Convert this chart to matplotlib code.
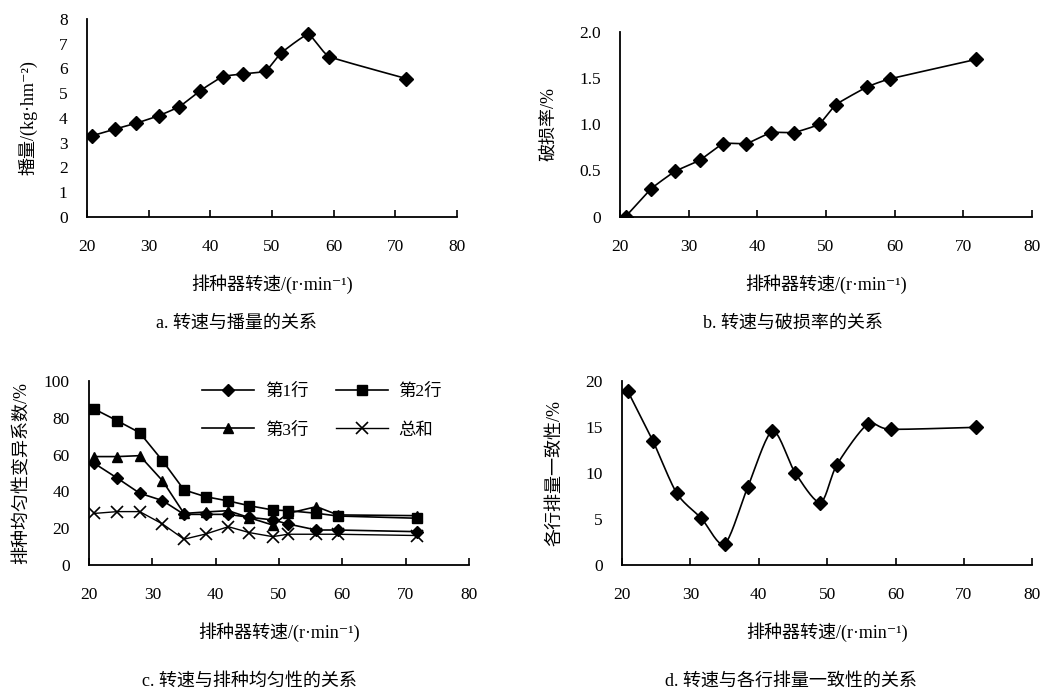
import numpy as np
import matplotlib
matplotlib.use("Agg")
import matplotlib.pyplot as plt

plt.rcParams['font.family'] = ['Liberation Serif', 'Noto Sans CJK SC', 'DejaVu Sans']
plt.rcParams['axes.unicode_minus'] = False

# speeds (r/min)
speed = [20.8, 24.5, 28.0, 31.6, 35.0, 38.4, 42.0, 45.3, 49.0, 51.4, 55.9, 59.3, 71.8]

# a. seeding rate
seed_rate = [3.28, 3.55, 3.79, 4.09, 4.46, 5.11, 5.67, 5.78, 5.90, 6.61, 7.38, 6.48, 5.59]
# b. damage rate
damage = [0.0, 0.30, 0.49, 0.61, 0.79, 0.79, 0.91, 0.91, 1.0, 1.21, 1.40, 1.49, 1.70]
# c. uniformity coefficient of variation
row1 = [55.3, 47.1, 39.0, 35.0, 27.5, 27.5, 27.5, 25.9, 24.5, 22.3, 19.0, 19.0, 18.1]
row2 = [84.8, 78.3, 71.9, 56.7, 40.8, 37.1, 34.8, 32.2, 29.9, 29.5, 28.1, 26.6, 25.4]
row3 = [58.9, 58.9, 59.4, 45.8, 28.0, 28.8, 29.5, 25.7, 21.7, 28.0, 31.7, 27.2, 26.8]
total = [28.0, 29.0, 29.0, 22.3, 14.0, 16.8, 20.8, 17.6, 15.4, 16.7, 16.7, 16.7, 16.0]
# d. consistency of rows
consistency = [18.95, 13.5, 7.8, 5.07, 2.28, 8.5, 14.57, 10.04, 6.78, 10.87, 15.29, 14.75, 14.96]

XLABEL = '排种器转速/(r·min⁻¹)'


def smooth(x, y, k=1.0, n=20):
    # catmull-rom curve through the points (k scales the tangents)
    x = np.asarray(x, float)
    y = np.asarray(y, float)
    px = np.concatenate([[2 * x[0] - x[1]], x, [2 * x[-1] - x[-2]]])
    py = np.concatenate([[2 * y[0] - y[1]], y, [2 * y[-1] - y[-2]]])
    xs, ys = [], []
    t = np.linspace(0, 1, n)
    h00 = 2 * t ** 3 - 3 * t ** 2 + 1
    h10 = t ** 3 - 2 * t ** 2 + t
    h01 = -2 * t ** 3 + 3 * t ** 2
    h11 = t ** 3 - t ** 2
    for i in range(1, len(px) - 2):
        for p, out in ((px, xs), (py, ys)):
            m1 = k * 0.5 * (p[i + 1] - p[i - 1])
            m2 = k * 0.5 * (p[i + 2] - p[i])
            out.extend(h00 * p[i] + h10 * m1 + h01 * p[i + 1] + h11 * m2)
    return xs, ys


def style(ax, ylim, yticks, ylabels):
    ax.set_xlim(20, 80)
    ax.set_ylim(*ylim)
    ax.set_xticks(range(20, 81, 10))
    ax.set_yticks(yticks)
    ax.set_yticklabels(ylabels)
    ax.spines['top'].set_visible(False)
    ax.spines['right'].set_visible(False)
    ax.spines['left'].set_linewidth(1.3)
    ax.spines['bottom'].set_linewidth(1.3)
    ax.tick_params(axis='x', direction='in', length=5, width=1.2, pad=16, labelsize=12.5)
    ax.tick_params(axis='y', length=0, pad=14, labelsize=12.5)
    ax.set_xlabel(XLABEL, fontsize=13, labelpad=14)


fig = plt.figure(figsize=(10.52, 6.9), dpi=100)

ax_a = fig.add_axes([0.0827, 0.6855, 0.3517, 0.287])
ax_b = fig.add_axes([0.5894, 0.686, 0.3916, 0.268])
ax_c = fig.add_axes([0.0846, 0.1812, 0.3612, 0.2667])
ax_d = fig.add_axes([0.5913, 0.1812, 0.390, 0.2667])

mk = dict(color='black', markersize=7, markeredgecolor='black')

# a
sx, sy = smooth(speed, seed_rate, k=0.4)
ax_a.plot(sx, sy, color='black', lw=1.2)
ax_a.plot(speed, seed_rate, 'D', **mk)
style(ax_a, (0, 8), range(0, 9), [str(v) for v in range(0, 9)])
ax_a.set_ylabel('播量/(kg·hm⁻²)', fontsize=13, labelpad=15)

# b
sx, sy = smooth(speed, damage, k=0.4)
ax_b.plot(sx, sy, color='black', lw=1.2)
ax_b.plot(speed, damage, 'D', **mk)
style(ax_b, (0, 2.0), [0, 0.5, 1.0, 1.5, 2.0], ['0', '0.5', '1.0', '1.5', '2.0'])
ax_b.set_ylabel('破损率/%', fontsize=13, labelpad=16)

# c
l1, = ax_c.plot(speed, row1, '-D', color='black', lw=1.2, markersize=6)
l2, = ax_c.plot(speed, row2, '-s', color='black', lw=1.2, markersize=7)
l3, = ax_c.plot(speed, row3, '-^', color='black', lw=1.2, markersize=7)
l4, = ax_c.plot(speed, total, '-x', color='black', lw=1.0, markersize=8, markeredgewidth=1.2)
style(ax_c, (0, 100), range(0, 101, 20), [str(v) for v in range(0, 101, 20)])
ax_c.set_ylabel('排种均匀性变异系数/%', fontsize=13, labelpad=9)
ax_c.legend([l1, l3, l2, l4], ['第1行', '第3行', '第2行', '总和'],
            ncol=2, loc='upper right', bbox_to_anchor=(0.97, 1.07), frameon=False,
            fontsize=12.5, handlelength=3, columnspacing=1.6, labelspacing=1.3,
            handletextpad=0.6)

# d
sx, sy = smooth(speed, consistency, k=0.8)
ax_d.plot(sx, sy, color='black', lw=1.2)
ax_d.plot(speed, consistency, 'D', **mk)
style(ax_d, (0, 20), range(0, 21, 5), [str(v) for v in range(0, 21, 5)])
ax_d.set_ylabel('各行排量一致性/%', fontsize=13, labelpad=16)

fig.text(236 / 1052, 1 - 323 / 690, 'a. 转速与播量的关系', ha='center', va='center', fontsize=13)
fig.text(793 / 1052, 1 - 323 / 690, 'b. 转速与破损率的关系', ha='center', va='center', fontsize=13)
fig.text(249 / 1052, 1 - 681 / 690, 'c. 转速与排种均匀性的关系', ha='center', va='center', fontsize=13)
fig.text(791 / 1052, 1 - 681 / 690, 'd. 转速与各行排量一致性的关系', ha='center', va='center', fontsize=13)

fig.savefig('out.png', dpi=100)
